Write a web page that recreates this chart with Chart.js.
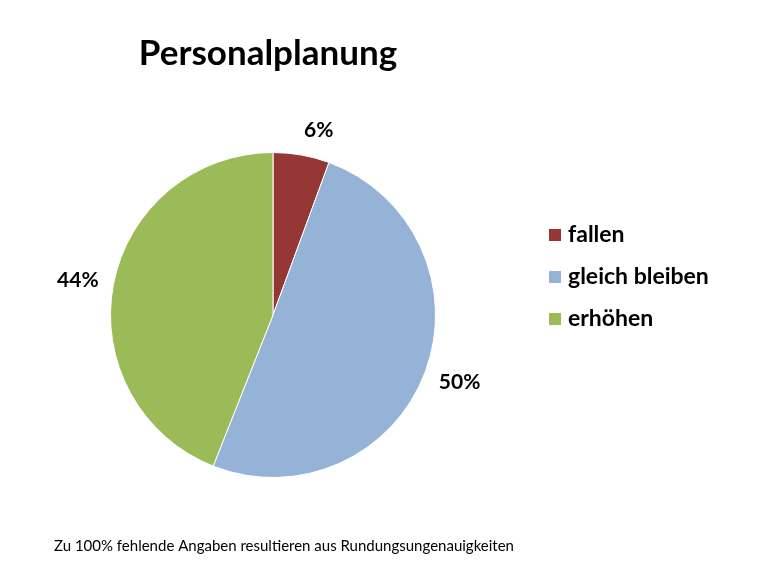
<!DOCTYPE html>
<html>
<head>
<meta charset="utf-8">
<script src="https://cdn.jsdelivr.net/npm/chart.js@4"></script>
<style>
  html, body { margin: 0; padding: 0; background: #fff; }
  #wrap { width: 770px; height: 587px; position: relative; }
</style>
</head>
<body>
<div id="wrap"><canvas id="pieChart"></canvas></div>
<script>
const categories = ["fallen", "gleich bleiben", "erhöhen"];
const shares = [5.6, 50.4, 44.0];
const shareLabels = ["6%", "50%", "44%"];
const sliceColors = ["#953735", "#95B3D7", "#9BBB59"];

const FONT = "Lato, 'Open Sans', sans-serif";

// Beschriftungen, Legende und Fußnote selbst zeichnen
const extrasPlugin = {
    id: "extras",
    afterDraw(chart) {
        const ctx = chart.ctx;
        ctx.save();
        ctx.fillStyle = "#000";

        // Titel
        ctx.font = "bold 35px " + FONT;
        ctx.textAlign = "center";
        ctx.textBaseline = "middle";
        ctx.fillText("Personalplanung", 268, 54);

        // Prozentwerte außerhalb der Segmente
        ctx.font = "bold 21px " + FONT;
        chart.getDatasetMeta(0).data.forEach((arc, i) => {
            const mid = (arc.startAngle + arc.endAngle) / 2;
            const c = Math.cos(mid), s = Math.sin(mid);
            const halfW = ctx.measureText(shareLabels[i]).width / 2;
            const gap = 15;
            const x = arc.x + c * (arc.outerRadius + gap) + Math.sign(c) * halfW;
            const y = arc.y + s * (arc.outerRadius + gap + 10);
            ctx.fillText(shareLabels[i], x, y);
        });

        // Legende
        ctx.textAlign = "left";
        ctx.font = "bold 23px " + FONT;
        categories.forEach((name, i) => {
            const y = 235 + i * 42;
            ctx.fillStyle = sliceColors[i];
            ctx.fillRect(549, y - 6, 12, 12);
            ctx.fillStyle = "#000";
            ctx.fillText(name, 568, y);
        });

        // Fußnote
        ctx.font = "15px " + FONT;
        ctx.fillText("Zu 100% fehlende Angaben resultieren aus Rundungsungenauigkeiten", 54, 546);
        ctx.restore();
    }
};

new Chart(document.getElementById("pieChart"), {
    type: "pie",
    data: {
        labels: categories,
        datasets: [{
            data: shares,
            backgroundColor: sliceColors,
            borderColor: "#fff",
            borderWidth: 1
        }]
    },
    options: {
        responsive: true,
        maintainAspectRatio: false,
        animation: false,
        layout: { padding: { left: 110, right: 334, top: 152, bottom: 109 } },
        plugins: {
            legend: { display: false },
            title: { display: false },
            tooltip: { enabled: false }
        }
    },
    plugins: [extrasPlugin]
});
</script>
</body>
</html>
